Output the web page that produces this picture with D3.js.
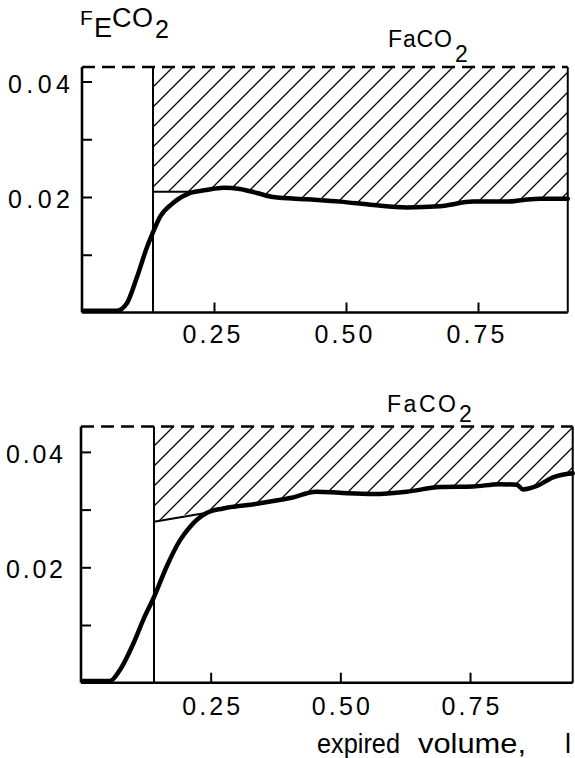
<!DOCTYPE html>
<html>
<head>
<meta charset="utf-8">
<script src="https://cdn.jsdelivr.net/npm/d3@7"></script>
<style>
  body { margin: 0; background: #fff; }
  text { font-family: "Liberation Sans", Arial, sans-serif; fill: #000; }
</style>
</head>
<body>
<script>
// ticks shared by both panels
const xTicks = [0.25, 0.5, 0.75];
const yTicks = [0.01, 0.02, 0.03, 0.04];
const yLabels = [0.02, 0.04];

// top panel: expired CO2 fraction vs expired volume (l)
const topCurve = [
  [0.004, 0.0003], [0.066, 0.0003], [0.085, 0.0016], [0.104, 0.0061], [0.123, 0.0113],
  [0.134, 0.0138], [0.148, 0.0166], [0.173, 0.0190], [0.205, 0.0207], [0.235, 0.0212],
  [0.268, 0.0216], [0.299, 0.0214], [0.331, 0.0207], [0.362, 0.0200], [0.426, 0.0196],
  [0.489, 0.0192], [0.552, 0.0186], [0.615, 0.0182], [0.678, 0.0184], [0.741, 0.0192],
  [0.804, 0.0192], [0.836, 0.0195], [0.867, 0.0197], [0.92, 0.0197]
];
const topRefLine = [[0.1345, 0.0209], [0.215, 0.0209]];
const topDeadSpace = 0.1345;
const topArterial = 0.0425;
const topEnd = 0.92;

// bottom panel
const bottomCurve = [
  [0.004, 0.0003], [0.056, 0.0003], [0.075, 0.0022], [0.101, 0.0068], [0.120, 0.0109],
  [0.141, 0.0149], [0.165, 0.0201], [0.191, 0.0247], [0.210, 0.0270], [0.242, 0.0294],
  [0.274, 0.0302], [0.339, 0.0310], [0.403, 0.0320], [0.454, 0.0331], [0.499, 0.0329],
  [0.564, 0.0327], [0.628, 0.0331], [0.692, 0.0339], [0.756, 0.0340], [0.806, 0.0344],
  [0.840, 0.0343], [0.852, 0.0335], [0.879, 0.0341], [0.910, 0.0356], [0.948, 0.0363]
];
const bottomRefLine = [[0.1407, 0.0279], [0.24, 0.0294]];
const bottomDeadSpace = 0.1407;
const bottomArterial = 0.0444;
const bottomEnd = 0.948;

const panels = [
  {curve: topCurve, ref: topRefLine, dead: topDeadSpace, top: topArterial, end: topEnd,
   xr: [82, 610], yr: [312.5, 81.5], ypad: 12, ylen: 62, xdx: -3, xlab: 30.5,
   fa: {x: 388, y: 47, sx: 455, sy: 62, len: 64}},
  {curve: bottomCurve, ref: bottomRefLine, dead: bottomDeadSpace, top: bottomArterial, end: bottomEnd,
   xr: [81, 599.7], yr: [682.7, 451.9], ypad: 18, ylen: 57, xdx: 0, xlab: 32,
   fa: {x: 387, y: 412, sx: 459, sy: 422, len: 69}}
];

const svg = d3.select("body").append("svg")
    .attr("width", 575)
    .attr("height", 758);

const defs = svg.append("defs");
defs.append("pattern")
    .attr("id", "hatch")
    .attr("patternUnits", "userSpaceOnUse")
    .attr("width", 20)
    .attr("height", 20)
  .append("path")
    .attr("d", "M-5,5L5,-5M0,20L20,0M15,25L25,15")
    .attr("stroke", "#000")
    .attr("stroke-width", 1.3);

panels.forEach(function(p) {
    let x = d3.scaleLinear().domain([0, 1]).range(p.xr);
    let y = d3.scaleLinear().domain([0, 0.04]).range(p.yr);
    let g = svg.append("g");

    // hatched region: from the dead space line up to the arterial level
    let lower = p.ref.concat(p.curve.filter(d => d[0] > p.ref[p.ref.length - 1][0]));
    let area = d3.area()
        .x(d => x(d[0]))
        .y0(y(p.top))
        .y1(d => y(d[1]))
        .curve(d3.curveMonotoneX);
    g.append("path")
        .attr("d", area(lower))
        .attr("fill", "url(#hatch)");

    // dashed arterial line
    g.append("line")
        .attr("x1", x(0)).attr("x2", x(p.end))
        .attr("y1", y(p.top)).attr("y2", y(p.top))
        .attr("stroke", "#000").attr("stroke-width", 2.5)
        .attr("stroke-dasharray", "13,7");

    // dead space line and right edge
    [p.dead, p.end].forEach(function(v) {
        g.append("line")
            .attr("x1", x(v)).attr("x2", x(v))
            .attr("y1", y(0)).attr("y2", y(p.top))
            .attr("stroke", "#000").attr("stroke-width", 2);
    });

    // reference line from the dead space boundary
    g.append("path")
        .attr("d", d3.line().x(d => x(d[0])).y(d => y(d[1]))(p.ref))
        .attr("fill", "none").attr("stroke", "#000").attr("stroke-width", 2);

    // axes
    g.append("line")
        .attr("x1", x(0)).attr("x2", x(0))
        .attr("y1", y(0)).attr("y2", y(p.top))
        .attr("stroke", "#000").attr("stroke-width", 2.6);
    g.append("line")
        .attr("x1", x(0)).attr("x2", x(p.end))
        .attr("y1", y(0)).attr("y2", y(0))
        .attr("stroke", "#000").attr("stroke-width", 2.6);

    let yAxis = g.append("g")
        .attr("transform", `translate(${x(0)},0)`)
        .call(d3.axisLeft(y).tickValues(yTicks).tickSize(-10).tickSizeOuter(0).tickPadding(p.ypad)
            .tickFormat(d => yLabels.includes(d) ? d3.format(".2f")(d) : ""));
    let xAxis = g.append("g")
        .attr("transform", `translate(0,${y(0)})`)
        .call(d3.axisBottom(x).tickValues(xTicks).tickSize(-10).tickSizeOuter(0)
            .tickFormat(d3.format(".2f")));

    [yAxis, xAxis].forEach(function(a) {
        a.select(".domain").remove();
        a.selectAll(".tick line").attr("stroke", "#000").attr("stroke-width", 2);
        a.selectAll("text")
            .attr("font-family", null)
            .style("font-size", "25px");
    });
    yAxis.selectAll("text")
        .attr("dy", 10.5)
        .attr("textLength", d => yLabels.includes(d) ? p.ylen : null)
        .attr("lengthAdjust", "spacing");
    xAxis.selectAll("text")
        .attr("y", p.xlab)
        .attr("dy", null)
        .attr("x", p.xdx)
        .attr("textLength", 58)
        .attr("lengthAdjust", "spacing");

    // CO2 trace
    g.append("path")
        .attr("d", d3.line().x(d => x(d[0])).y(d => y(d[1])).curve(d3.curveMonotoneX)(p.curve))
        .attr("fill", "none")
        .attr("stroke", "#000")
        .attr("stroke-width", 4.5)
        .attr("stroke-linejoin", "round")
        .attr("stroke-linecap", "round");

    // FaCO2 label
    g.append("text")
        .attr("x", p.fa.x).attr("y", p.fa.y)
        .style("font-size", "23px")
        .attr("textLength", p.fa.len)
        .attr("lengthAdjust", "spacing")
        .text("FaCO");
    g.append("text")
        .attr("x", p.fa.sx).attr("y", p.fa.sy)
        .style("font-size", "23px")
        .text("2");
});

// y axis title of the top panel
let title = svg.append("g");
title.append("text").attr("x", 80).attr("y", 25).style("font-size", "21px").text("F");
title.append("text").attr("x", 94).attr("y", 37).style("font-size", "27px").text("E");
title.append("text").attr("x", 112).attr("y", 27).style("font-size", "27px")
    .attr("textLength", 41).attr("lengthAdjust", "spacing").text("CO");
title.append("text").attr("x", 155).attr("y", 38).style("font-size", "25px").text("2");

// x axis title
let xTitle = svg.append("g").style("font-size", "27px");
xTitle.append("text").attr("x", 317).attr("y", 753)
    .attr("textLength", 83).attr("lengthAdjust", "spacingAndGlyphs").text("expired");
xTitle.append("text").attr("x", 418).attr("y", 753)
    .attr("textLength", 108).attr("lengthAdjust", "spacingAndGlyphs").text("volume,");
xTitle.append("text").attr("x", 565).attr("y", 753).text("l");
</script>
</body>
</html>
